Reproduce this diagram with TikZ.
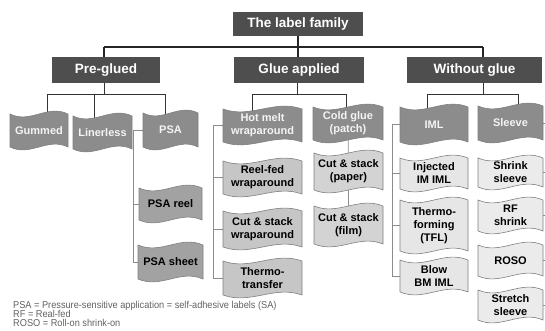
\documentclass[tikz,border=0pt]{standalone}
\usepackage{fontspec}
\setmainfont{Liberation Sans}
\newfontfamily\notefont[FakeStretch=0.92]{Liberation Sans}
\usetikzlibrary{backgrounds}
\definecolor{hdrgray}{HTML}{4E4E4E}
\definecolor{lvdark}{HTML}{8C8C8C}
\definecolor{lvpsa}{HTML}{A2A2A2}
\definecolor{lvhot}{HTML}{C6C6C6}
\definecolor{lvcold}{HTML}{D3D3D3}
\definecolor{lviml}{HTML}{E6E6E6}
\definecolor{lvsleeve}{HTML}{EBEBEB}
\definecolor{lighttext}{HTML}{F4F4F4}
% \wbox{name}{L}{T}{R}{B}{fill}{textcolor}{text}
\newcommand{\wbox}[8]{%
  \path[wavebox,fill=#6] ({#2},{#3+3})
    .. controls ({#2+0.35*(#4-#2)},{#3+13}) and ({#2+0.65*(#4-#2)},{#3-7}) .. ({#4},{#3+3})
    -- ({#4},{#5-3})
    .. controls ({#2+0.65*(#4-#2)},{#5-13}) and ({#2+0.35*(#4-#2)},{#5+7}) .. ({#2},{#5-3})
    -- cycle;
  \node[boxtext,text=#7] (#1) at ({(#2+#4)/2},{(#3+#5)/2}) {#8};%
}
\begin{document}
\begin{tikzpicture}[x=1pt,y=-1pt,
  hdr/.style={fill=hdrgray, text=white, font=\bfseries\fontsize{13.5}{15}\selectfont, inner sep=0pt},
  bus/.style={draw=black!85, line width=1.3pt},
  sub/.style={draw=black!80, line width=1pt},
  thin/.style={draw=black!45, line width=0.7pt},
  wavebox/.style={draw=black!50, line width=0.6pt},
  boxtext/.style={inner sep=0pt, align=center, font=\bfseries\fontsize{11}{13}\selectfont},
  notetext/.style={anchor=base west, inner sep=0pt, text=black!62, font=\notefont\fontsize{10}{10}\selectfont}]
\useasboundingbox (0,0) rectangle (545,331);

% headers
\node[hdr, minimum width=130pt, minimum height=24pt] (root) at (298,24) {The label family};
\node[hdr, minimum width=108pt, minimum height=26pt] (pre) at (106,70) {Pre-glued};
\node[hdr, minimum width=130pt, minimum height=26pt] (glue) at (299,70) {Glue applied};
\node[hdr, minimum width=135pt, minimum height=26pt] (without) at (474.5,70) {Without glue};

% level 3
\wbox{gum}{10}{111}{68}{150}{lvdark}{lighttext}{Gummed}
\wbox{liner}{73}{113}{132}{152}{lvdark}{lighttext}{Linerless}
\wbox{psa}{143}{110}{198}{150}{lvdark}{lighttext}{PSA}
\wbox{hot}{223}{106}{302}{145}{lvdark}{lighttext}{Hot melt\\wraparound}
\wbox{cold}{313}{104}{383}{143}{lvdark}{lighttext}{Cold glue\\(patch)}
\wbox{iml}{400}{104}{468}{145}{lvdark}{lighttext}{IML}
\wbox{sleeve}{478}{103}{543}{143}{lvdark}{lighttext}{Sleeve}

% children
\wbox{psareel}{139}{185}{202}{223}{lvpsa}{black}{PSA reel}
\wbox{psasheet}{138}{242}{203}{282}{lvpsa}{black}{PSA sheet}
\wbox{reelfed}{223}{158}{302}{197}{lvhot}{black}{Reel-fed\\wraparound}
\wbox{cutwrap}{223}{208}{302}{250}{lvhot}{black}{Cut \& stack\\wraparound}
\wbox{thermot}{223}{258}{302}{298}{lvhot}{black}{Thermo-\\transfer}
\wbox{paper}{314}{150}{383}{193}{lvcold}{black}{Cut \& stack\\(paper)}
\wbox{film}{314}{203}{383}{247}{lvcold}{black}{Cut \& stack\\(film)}
\wbox{injected}{400}{155}{468}{192}{lviml}{black}{Injected\\IM IML}
\wbox{thermof}{400}{197}{468}{254}{lviml}{black}{Thermo-\\forming\\(TFL)}
\wbox{blow}{400}{257}{468}{295}{lviml}{black}{Blow\\BM IML}
\wbox{shrink}{478}{155}{543}{190}{lvsleeve}{black}{Shrink\\sleeve}
\wbox{rf}{478}{197}{543}{234}{lvsleeve}{black}{RF\\shrink}
\wbox{roso}{478}{242}{543}{279}{lvsleeve}{black}{ROSO}
\wbox{stretch}{478}{287}{543}{323}{lvsleeve}{black}{Stretch\\sleeve}

% footnote
\node[notetext] (n1) at (13,308) {PSA = Pressure-sensitive application = self-adhesive labels (SA)};
\node[notetext] (n2) at (13,317) {RF = Real-fed};
\node[notetext] (n3) at (13,326) {ROSO = Roll-on shrink-on};

% connectors
\coordinate (b1L) at (104,47);
\coordinate (b1R) at (483,47);
\coordinate (p2L) at (47,94.5);
\coordinate (p2M) at (94,94.5);
\coordinate (p2R) at (165,94.5);
\coordinate (g2L) at (252,94.5);
\coordinate (g2M) at (297,94.5);
\coordinate (g2R) at (346,94.5);
\coordinate (w2L) at (427,94.5);
\coordinate (w2R) at (518,94.5);
\coordinate (psaT) at (133,0);
\coordinate (hotT) at (213,0);
\coordinate (imlT) at (392,0);
\coordinate (edgeT) at (545,0);

\begin{scope}[on background layer]
  \draw[bus] (root.south) -- (root.south |- b1L);
  \draw[bus] (b1L) -- (b1R);
  \draw[bus] (b1L) -- (b1L |- pre.north);
  \draw[bus] (root.south |- b1L) -- (root.south |- glue.north);
  \draw[bus] (b1R) -- (b1R |- without.north);

  \draw[sub] (pre.south -| b1L) -- (b1L |- p2L);
  \draw[sub] (p2L) -- (p2R);
  \draw[sub] (p2L) -- (p2L |- gum.center);
  \draw[sub] (p2M) -- (p2M |- liner.center);
  \draw[sub] (p2R) -- (p2R |- psa.center);

  \draw[sub] (glue.south -| g2M) -- (g2M);
  \draw[sub] (g2L) -- (g2R);
  \draw[sub] (g2L) -- (g2L |- hot.center);
  \draw[sub] (g2R) -- (g2R |- cold.center);

  \draw[sub] (without.south -| b1R) -- (b1R |- w2L);
  \draw[sub] (w2L) -- (w2R);
  \draw[sub] (w2L) -- (w2L |- iml.center);
  \draw[sub] (w2R) -- (w2R |- sleeve.center);

  \draw[thin] (psa.center) -| (psaT |- psasheet.center) -- (psasheet.center);
  \draw[thin] (psaT |- psareel.center) -- (psareel.center);

  \draw[thin] (hot.center) -| (hotT |- thermot.center) -- (thermot.center);
  \draw[thin] (hotT |- reelfed.center) -- (reelfed.center);
  \draw[thin] (hotT |- cutwrap.center) -- (cutwrap.center);

  \draw[thin] (cold.center) -- (paper.center) -- (film.center);

  \draw[thin] (iml.center) -| (imlT |- blow.center) -- (blow.center);
  \draw[thin] (imlT |- injected.center) -- (injected.center);
  \draw[thin] (imlT |- thermof.center) -- (thermof.center);

  \draw[thin] (sleeve.center) -- (sleeve.center -| edgeT);
  \draw[thin] (shrink.center) -- (shrink.center -| edgeT);
  \draw[thin] (rf.center) -- (rf.center -| edgeT);
  \draw[thin] (roso.center) -- (roso.center -| edgeT);
  \draw[thin] (stretch.center) -- (stretch.center -| edgeT);
\end{scope}
\end{tikzpicture}
\end{document}
